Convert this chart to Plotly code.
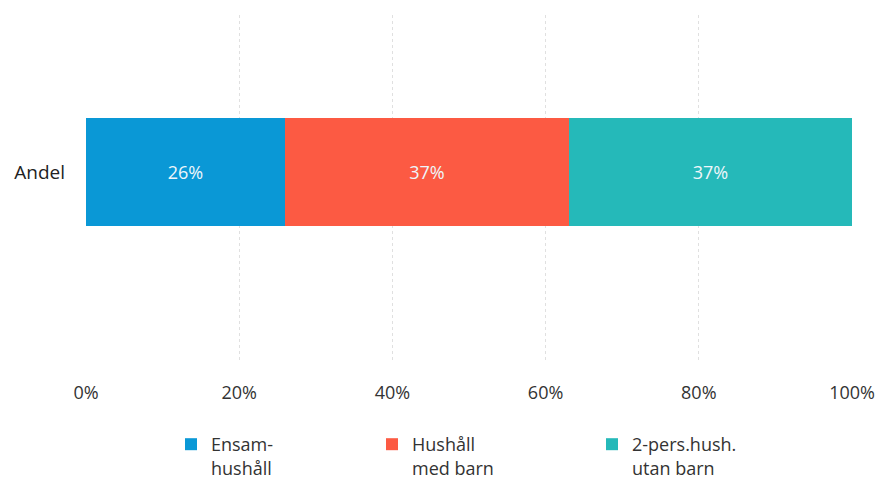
import plotly.graph_objects as go

categories = ["Andel"]
series_names = ["Ensam-<br>hushåll", "Hushåll<br>med barn", "2-pers.hush.<br>utan barn"]
series_values = [[26], [37], [37]]
colors = ["#0A98D6", "#FC5A43", "#25B9B9"]
x_ticks = [0, 20, 40, 60, 80, 100]
x_tick_labels = ["0%", "20%", "40%", "60%", "80%", "100%"]

# page body has an 8px margin, so the figure is sized to fit the window
OFF = 8
W, H = 883 - OFF, 486 - OFF
legend_px = [171 - OFF, 372 - OFF, 592 - OFF]
legend_top = 426 - OFF
legend_names = ["legend", "legend2", "legend3"]

fig = go.Figure()
for name, vals, col, lg in zip(series_names, series_values, colors, legend_names):
    fig.add_trace(go.Bar(
        y=categories, x=vals, name=name, orientation="h",
        marker=dict(color=col, line=dict(width=0)),
        width=0.313,
        texttemplate="%{x}%", textposition="inside", insidetextanchor="middle",
        textangle=0,
        textfont=dict(family="Open Sans", size=18, color="#eef6fa"),
        legend=lg,
    ))

leg_common = dict(orientation="v", xref="container", yref="container",
                  yanchor="top", xanchor="left", bgcolor="rgba(0,0,0,0)",
                  font=dict(family="Open Sans", size=18, color="#333333"),
                  valign="top")
layout_legends = {}
for lg, px in zip(legend_names, legend_px):
    layout_legends[lg] = dict(x=px / W, y=1 - legend_top / H, **leg_common)

fig.update_layout(
    width=W, height=H,
    margin=dict(l=86 - OFF, r=883 - 852, t=15 - OFF, b=486 - 360, autoexpand=False),
    paper_bgcolor="white", plot_bgcolor="white",
    barmode="stack",
    bargap=0,
    font=dict(family="Open Sans", size=18, color="#333333"),
    xaxis=dict(range=[0, 100], tickvals=x_ticks, ticktext=x_tick_labels,
               showgrid=True, gridcolor="#e0e0e0", griddash="dot", gridwidth=1,
               zeroline=False, showline=False, ticks="",
               ticklabelstandoff=20, tickangle=0, automargin=False,
               tickfont=dict(family="Open Sans", size=18, color="#333333")),
    yaxis=dict(range=[-0.545, 0.455], showgrid=False, zeroline=False,
               showline=False, ticks="", ticklabelstandoff=20, automargin=False,
               tickfont=dict(family="Open Sans", size=19, color="#222222")),
    showlegend=True,
    **layout_legends,
)

fig.write_html("out.html")
